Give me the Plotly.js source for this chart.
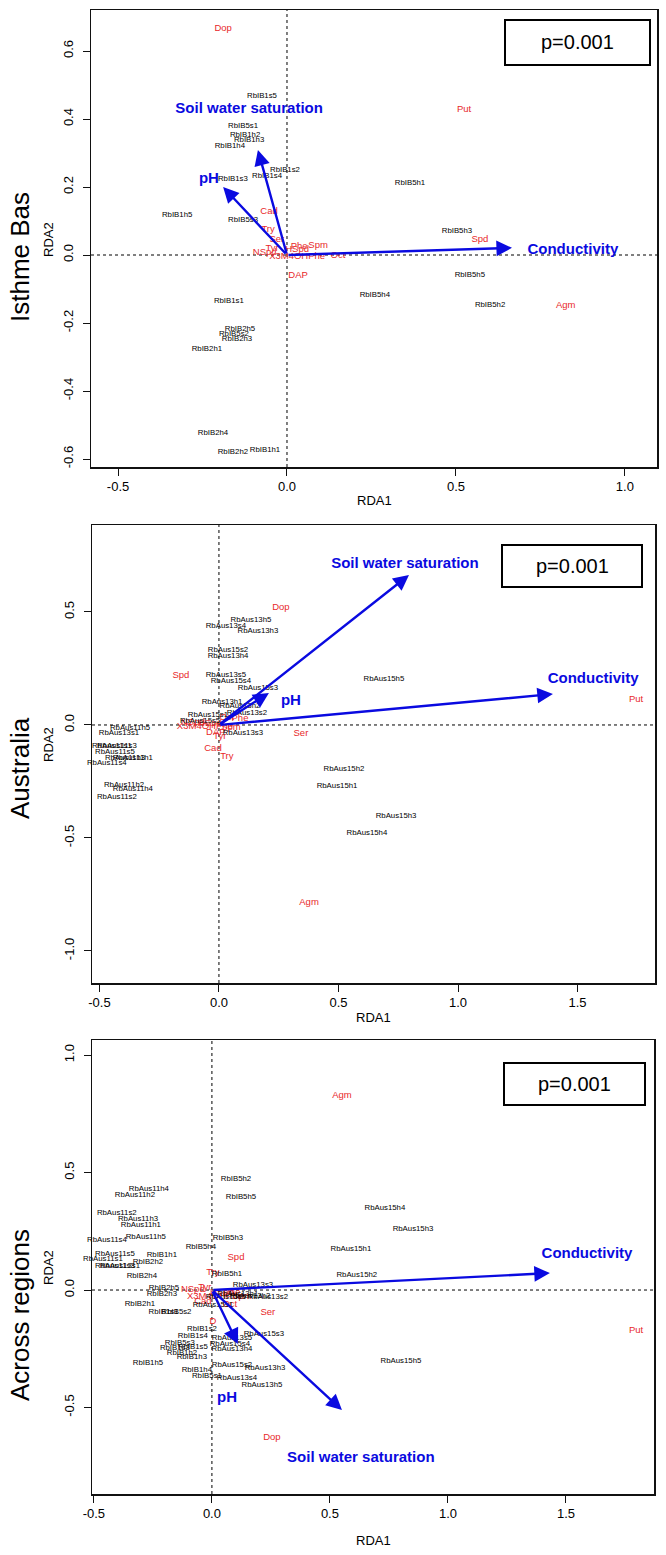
<!DOCTYPE html>
<html>
<head>
<meta charset="utf-8">
<script src="https://cdn.plot.ly/plotly-3.0.1.min.js"></script>
<style>html,body{margin:0;padding:0;background:#fff;}#chart{width:666px;height:1555px;}</style>
</head>
<body>
<div id="chart"></div>
<script>
// ---------- Panel 1: Isthme Bas ----------
const ib_sites = ["RbIB1s5","RbIB5s1","RbIB1h2","RbIB1h3","RbIB1h4","RbIB1s2","RbIB1s4","RbIB1s3","RbIB1h5","RbIB5s3",
  "RbIB5h1","RbIB5h3","RbIB5h5","RbIB5h4","RbIB5h2","RbIB1s1","RbIB2h5","RbIB5s2","RbIB2h3","RbIB2h1","RbIB2h4","RbIB2h2","RbIB1h1"];
const ib_siteX = [-0.074,-0.130,-0.124,-0.112,-0.169,-0.006,-0.059,-0.160,-0.325,-0.130,
  0.364,0.503,0.541,0.260,0.601,-0.172,-0.139,-0.157,-0.148,-0.237,-0.219,-0.160,-0.065];
const ib_siteY = [0.468,0.379,0.353,0.339,0.321,0.250,0.232,0.224,0.118,0.103,
  0.212,0.071,-0.059,-0.118,-0.147,-0.135,-0.218,-0.232,-0.247,-0.277,-0.524,-0.579,-0.574];
const ib_spec = ["Dop","Put","Spd","Agm","Cad","Try","Ser","Tyr","NSpd","HSpd","Phe","Spm","X3M4OHPhe","Oct","DAP"];
const ib_specX = [-0.189,0.524,0.571,0.825,-0.053,-0.056,-0.030,-0.044,-0.066,0.030,0.036,0.092,0.030,0.151,0.033];
const ib_specY = [0.665,0.429,0.044,-0.150,0.127,0.074,0.044,0.018,0.006,0.015,0.026,0.029,-0.006,-0.003,-0.062];
const ib_env = ["Soil water saturation","pH","Conductivity"];
const ib_envX = [-0.086,-0.189,0.666];
const ib_envY = [0.309,0.200,0.021];
const ib_envLabX = [-0.112,-0.231,0.846];
const ib_envLabY = [0.429,0.224,0.015];
const ib_xTicks = [-0.5,0,0.5,1.0];
const ib_xTickText = ["-0.5","0.0","0.5","1.0"];
const ib_yTicks = [-0.6,-0.4,-0.2,0,0.2,0.4,0.6];
const ib_yTickText = ["-0.6","-0.4","-0.2","0.0","0.2","0.4","0.6"];

// ---------- Panel 2: Australia ----------
const au_sites = ["RbAus13h5","RbAus13s4","RbAus13h3","RbAus15s2","RbAus13h4","RbAus13s5","RbAus15s4","RbAus15s3",
  "RbAus13h1","RbAus13h2","RbAus13s2","RbAus15s1","RbAus15s5","RbAus13s3",
  "RbAus11h5","RbAus13s1","RbAus11s1","RbAus11s3","RbAus11s5","RbAus11h3","RbAus11h1","RbAus11s4","RbAus11h2","RbAus11h4","RbAus11s2",
  "RbAus15h5","RbAus15h2","RbAus15h1","RbAus15h3","RbAus15h4"];
const au_siteX = [0.134,0.029,0.163,0.038,0.038,0.029,0.050,0.163,
  0.013,0.088,0.117,-0.046,-0.079,0.100,
  -0.372,-0.418,-0.448,-0.427,-0.435,-0.393,-0.360,-0.469,-0.397,-0.360,-0.427,
  0.690,0.523,0.494,0.741,0.619];
const au_siteY = [0.465,0.438,0.416,0.332,0.305,0.221,0.195,0.164,
  0.102,0.084,0.053,0.044,0.018,-0.035,
  -0.013,-0.035,-0.093,-0.093,-0.119,-0.146,-0.146,-0.168,-0.265,-0.283,-0.319,
  0.204,-0.195,-0.270,-0.403,-0.478];
const au_spec = ["Dop","Spd","Put","Ser","Agm","Cad","Try","DAP","Tyr","Phe","Oct","Spm","X3M4OHPhe","NSpd","HSpd"];
const au_specX = [0.259,-0.159,1.745,0.343,0.377,-0.025,0.033,-0.013,0.004,0.088,0.033,0.050,-0.059,-0.109,-0.038];
const au_specY = [0.518,0.217,0.111,-0.040,-0.788,-0.106,-0.142,-0.035,-0.053,0.027,0.031,-0.010,-0.009,0.009,0.004];
const au_env = ["Soil water saturation","pH","Conductivity"];
const au_envX = [0.795,0.209,1.397];
const au_envY = [0.664,0.142,0.137];
const au_envLabX = [0.778,0.301,1.565];
const au_envLabY = [0.712,0.106,0.204];
const au_xTicks = [-0.5,0,0.5,1.0,1.5];
const au_xTickText = ["-0.5","0.0","0.5","1.0","1.5"];
const au_yTicks = [-1.0,-0.5,0,0.5];
const au_yTickText = ["-1.0","-0.5","0.0","0.5"];

// ---------- Panel 3: Across regions ----------
const ar_sites = ["RbIB5h2","RbIB5h5","RbAus11h4","RbAus11h2","RbAus11s2","RbAus11h3","RbAus11h1","RbAus11h5","RbAus11s4",
  "RbIB5h3","RbIB5h4","RbAus11s5","RbIB1h1","RbAus11s1","RbIB2h2","RbAus11s3","RbAus13s1","RbIB2h4","RbIB5h1","RbAus13s3",
  "RbIB2h5","RbIB2h3","RbIB2h1","RbIB1s1","RbIB5s2","RbAus15s1","RbAus13h1","RbAus13h2","RbAus13s2","RbAus15s5",
  "RbIB1s2","RbIB1s4","RbAus13s5","RbAus15s3","RbIB5s3","RbIB1s5","RbIB1s3","RbAus15s4","RbAus13h4","RbIB1h2","RbIB1h3",
  "RbIB1h5","RbIB1h4","RbIB5s1","RbAus15s2","RbAus13h3","RbAus13s4","RbAus13h5",
  "RbAus15h4","RbAus15h3","RbAus15h1","RbAus15h2","RbAus15h5"];
const ar_siteX = [0.102,0.123,-0.267,-0.326,-0.403,-0.313,-0.301,-0.280,-0.445,
  0.068,-0.047,-0.411,-0.212,-0.462,-0.271,-0.411,-0.390,-0.297,0.064,0.174,
  -0.203,-0.212,-0.305,-0.205,-0.150,0.004,0.110,0.161,0.237,0.059,
  -0.042,-0.081,0.085,0.220,-0.136,-0.081,-0.157,0.076,0.085,-0.127,-0.085,
  -0.271,-0.064,-0.021,0.085,0.225,0.106,0.212,
  0.733,0.852,0.589,0.614,0.801];
const ar_siteY = [0.472,0.396,0.430,0.404,0.328,0.302,0.277,0.226,0.213,
  0.221,0.183,0.153,0.149,0.132,0.119,0.102,0.102,0.060,0.068,0.021,
  0.009,-0.017,-0.060,-0.094,-0.094,-0.064,-0.017,-0.026,-0.030,-0.030,
  -0.166,-0.196,-0.204,-0.187,-0.226,-0.243,-0.247,-0.230,-0.251,-0.268,-0.285,
  -0.311,-0.340,-0.366,-0.319,-0.332,-0.374,-0.404,
  0.349,0.260,0.174,0.064,-0.302];
const ar_spec = ["Agm","Put","Spd","Ser","Dop","Try","D","NSpd","X3M4OHPhe","Cad","Oct","Tyr","HSpd","Phe","Spm"];
const ar_specX = [0.551,1.797,0.102,0.237,0.254,0.004,0.004,-0.081,0.013,-0.038,0.076,-0.030,0.042,0.085,0.127];
const ar_specY = [0.826,-0.174,0.136,-0.098,-0.630,0.072,-0.136,0.000,-0.030,-0.051,-0.060,0.009,-0.009,-0.013,-0.026];
const ar_env = ["Soil water saturation","pH","Conductivity"];
const ar_envX = [0.551,0.110,1.432];
const ar_envY = [-0.511,-0.230,0.072];
const ar_envLabX = [0.631,0.064,1.589];
const ar_envLabY = [-0.715,-0.460,0.153];
const ar_xTicks = [-0.5,0,0.5,1.0,1.5];
const ar_xTickText = ["-0.5","0.0","0.5","1.0","1.5"];
const ar_yTicks = [-0.5,0,0.5,1.0];
const ar_yTickText = ["-0.5","0.0","0.5","1.0"];

const panelTitles = ["Isthme Bas","Australia","Across regions"];
const pValues = ["p=0.001","p=0.001","p=0.001"];

// ---------- drawing ----------
const W = 666, H = 1555;
const FONT = "Liberation Sans, Arial, Helvetica, sans-serif";
const BLUE = "#0a0ae0", RED = "#e8282a";
const px = v => v / W;
const py = v => 1 - v / H;

// panel geometry in pixels: [left, right, top, bottom]
const boxes = [[91,657,10,467],[92,655,525,983],[92,654,1040,1494]];
const ranges = [
  {x:[-0.580,1.095], y:[-0.6235,0.7206]},
  {x:[-0.531,1.824], y:[-1.142,0.885]},
  {x:[-0.508,1.873], y:[-0.868,1.064]}
];
const pBoxes = [[505,650,20,65],[502,642,545,587],[504,645,1063,1105]];
const xTitleGap = [33, 34, 46];
const yTitleMid = [240, 745, 1268];
const panelTitleMid = [257, 768, 1315];

const panels = [
  {sites:ib_sites,sx:ib_siteX,sy:ib_siteY,spec:ib_spec,spx:ib_specX,spy:ib_specY,env:ib_env,ex:ib_envX,ey:ib_envY,elx:ib_envLabX,ely:ib_envLabY,xt:ib_xTicks,xtt:ib_xTickText,yt:ib_yTicks,ytt:ib_yTickText},
  {sites:au_sites,sx:au_siteX,sy:au_siteY,spec:au_spec,spx:au_specX,spy:au_specY,env:au_env,ex:au_envX,ey:au_envY,elx:au_envLabX,ely:au_envLabY,xt:au_xTicks,xtt:au_xTickText,yt:au_yTicks,ytt:au_yTickText},
  {sites:ar_sites,sx:ar_siteX,sy:ar_siteY,spec:ar_spec,spx:ar_specX,spy:ar_specY,env:ar_env,ex:ar_envX,ey:ar_envY,elx:ar_envLabX,ely:ar_envLabY,xt:ar_xTicks,xtt:ar_xTickText,yt:ar_yTicks,ytt:ar_yTickText}
];

const traces = [];
const layout = {
  width: W, height: H,
  margin: {l:0, r:0, t:0, b:0, pad:0},
  paper_bgcolor: "#fff", plot_bgcolor: "#fff",
  showlegend: false,
  font: {family: FONT, color: "#000"},
  shapes: [], annotations: []
};

panels.forEach((p, i) => {
  const n = i === 0 ? "" : String(i + 1);
  const xa = "x" + n, ya = "y" + n;
  const b = boxes[i];
  const axCommon = {
    showgrid:false, zeroline:false, showline:true, mirror:true,
    linecolor:"#111", linewidth:1.5,
    ticks:"outside", ticklen:7, tickwidth:1, tickcolor:"#111",
    tickfont:{family:FONT, size:13, color:"#000"},
    tickmode:"array", fixedrange:true
  };
  layout["xaxis" + n] = Object.assign({}, axCommon, {
    domain:[px(b[0]), px(b[1])], anchor: ya, range: ranges[i].x,
    tickvals: p.xt, ticktext: p.xtt
  });
  layout["yaxis" + n] = Object.assign({}, axCommon, {
    domain:[py(b[3]), py(b[2])], anchor: xa, range: ranges[i].y,
    tickvals: p.yt, ticktext: p.ytt, tickangle: -90, ticklabelstandoff: 4
  });

  // dotted zero lines
  layout.shapes.push({type:"line", xref:xa, yref:ya+" domain", x0:0, x1:0, y0:0, y1:1, layer:"below",
    line:{color:"#000", width:1, dash:"dot"}});
  layout.shapes.push({type:"line", xref:xa+" domain", yref:ya, x0:0, x1:1, y0:0, y1:0, layer:"below",
    line:{color:"#000", width:1, dash:"dot"}});

  // species (red)
  traces.push({type:"scatter", mode:"text", x:p.spx, y:p.spy, text:p.spec, xaxis:xa, yaxis:ya,
    textposition:"middle center", textfont:{family:FONT, size:9.5, color:RED}, hoverinfo:"skip", cliponaxis:false});
  // sites (black)
  traces.push({type:"scatter", mode:"text", x:p.sx, y:p.sy, text:p.sites, xaxis:xa, yaxis:ya,
    textposition:"middle center", textfont:{family:FONT, size:7.8, color:"#000"}, hoverinfo:"skip", cliponaxis:false});
  // env labels (blue bold)
  traces.push({type:"scatter", mode:"text", x:p.elx, y:p.ely, text:p.env.map(s => "<b>" + s + "</b>"), xaxis:xa, yaxis:ya,
    textposition:"middle center", textfont:{family:FONT, size:15, color:BLUE}, hoverinfo:"skip", cliponaxis:false});

  // env arrows
  p.env.forEach((name, k) => {
    layout.annotations.push({xref:xa, yref:ya, axref:xa, ayref:ya, x:p.ex[k], y:p.ey[k], ax:0, ay:0,
      text:"", showarrow:true, arrowhead:2, arrowsize:1.3, arrowwidth:2.4, arrowcolor:BLUE, standoff:0, startstandoff:0});
  });

  // axis titles
  const cx = (b[0] + b[1]) / 2;
  layout.annotations.push({xref:"paper", yref:"paper", x:px(cx), y:py(b[3] + xTitleGap[i]), text:"RDA1", showarrow:false,
    font:{family:FONT, size:13, color:"#000"}, xanchor:"center", yanchor:"middle"});
  layout.annotations.push({xref:"paper", yref:"paper", x:px(48), y:py(yTitleMid[i]), text:"RDA2", showarrow:false, textangle:-90,
    font:{family:FONT, size:13, color:"#000"}, xanchor:"center", yanchor:"middle"});
  layout.annotations.push({xref:"paper", yref:"paper", x:px(20), y:py(panelTitleMid[i]), text:panelTitles[i], showarrow:false, textangle:-90,
    font:{family:FONT, size:26, color:"#000"}, xanchor:"center", yanchor:"middle"});

  // p-value box
  const pb = pBoxes[i];
  layout.shapes.push({type:"rect", xref:"paper", yref:"paper", x0:px(pb[0]), x1:px(pb[1]), y0:py(pb[3]), y1:py(pb[2]),
    line:{color:"#000", width:2}, fillcolor:"#fff", layer:"above"});
  layout.annotations.push({xref:"paper", yref:"paper", x:px((pb[0]+pb[1])/2), y:py((pb[2]+pb[3])/2), text:pValues[i],
    showarrow:false, font:{family:FONT, size:20, color:"#000"}, xanchor:"center", yanchor:"middle"});
});

Plotly.newPlot("chart", traces, layout, {staticPlot:true, displayModeBar:false});
</script>
</body>
</html>
